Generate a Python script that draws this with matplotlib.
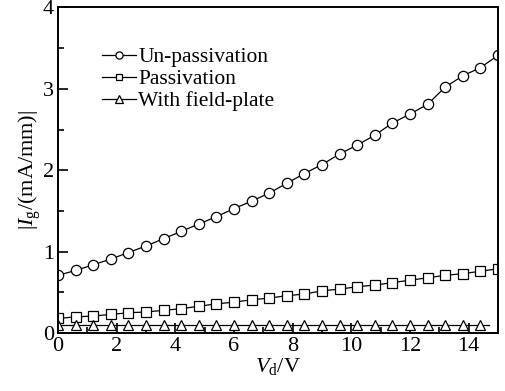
import matplotlib
matplotlib.use("Agg")
import matplotlib.pyplot as plt
from matplotlib.ticker import MultipleLocator

plt.rcParams['font.family'] = ['Liberation Serif', 'DejaVu Serif']
plt.rcParams['mathtext.fontset'] = 'custom'
plt.rcParams['mathtext.rm'] = 'Liberation Serif'
plt.rcParams['mathtext.it'] = 'Liberation Serif:italic'

# drain voltage (V)
vd = [0.0, 0.6, 1.2, 1.8, 2.4, 3.0, 3.6, 4.2, 4.8, 5.4, 6.0, 6.6, 7.2,
      7.8, 8.4, 9.0, 9.6, 10.2, 10.8, 11.4, 12.0, 12.6, 13.2, 13.8, 14.4, 15.0]

# |Ig| in mA/mm
unpassivation = [0.71, 0.77, 0.84, 0.91, 0.99, 1.07, 1.16, 1.25, 1.34, 1.43,
                 1.53, 1.62, 1.72, 1.84, 1.96, 2.07, 2.20, 2.31, 2.43, 2.58,
                 2.69, 2.81, 3.02, 3.16, 3.26, 3.41]
passivation = [0.18, 0.20, 0.21, 0.23, 0.25, 0.26, 0.28, 0.30, 0.33, 0.36,
               0.38, 0.41, 0.43, 0.46, 0.48, 0.52, 0.54, 0.57, 0.59, 0.62,
               0.65, 0.68, 0.71, 0.73, 0.76, 0.79]
vd_fp = vd[:-1] + [14.7]
field_plate = [0.094] * 26

fig = plt.figure(figsize=(5.05, 3.91), dpi=100)
ax = fig.add_axes([0.115, 0.148, 0.871, 0.833])

style = dict(color='black', lw=0.9, mfc='white', mec='black', mew=0.9, ms=7.4)
ax.plot(vd, unpassivation, marker='o', label='Un-passivation', **style)
ax.plot(vd, passivation, marker='s', label='Passivation', **dict(style, ms=6.5))
ax.plot(vd_fp, field_plate, marker='^', markevery=list(range(25)),
        label='With field-plate', **style)

ax.set_xlim(0, 15)
ax.set_ylim(0, 4)
ax.xaxis.set_major_locator(MultipleLocator(2))
ax.xaxis.set_minor_locator(MultipleLocator(1))
ax.yaxis.set_major_locator(MultipleLocator(1))
ax.yaxis.set_minor_locator(MultipleLocator(0.5))
ax.tick_params(which='both', direction='in', top=False, right=False,
               width=1.2, labelsize=16, pad=3)
ax.tick_params(which='major', length=7)
ax.tick_params(which='minor', length=4.3)
for s in ax.spines.values():
    s.set_linewidth(1.4)

ax.set_xlabel('$V_\\mathrm{d}$/V', fontsize=16, labelpad=0)
ax.set_ylabel('|$I_\\mathrm{g}$/(mA/mm)|', fontsize=16, labelpad=0)

ax.legend(loc='upper left', bbox_to_anchor=(0.08, 0.905), frameon=False,
          fontsize=15.5, handlelength=1.6, handletextpad=0.1, labelspacing=0.1,
          markerscale=0.7, borderaxespad=0)

fig.savefig('out.png', dpi=100)
